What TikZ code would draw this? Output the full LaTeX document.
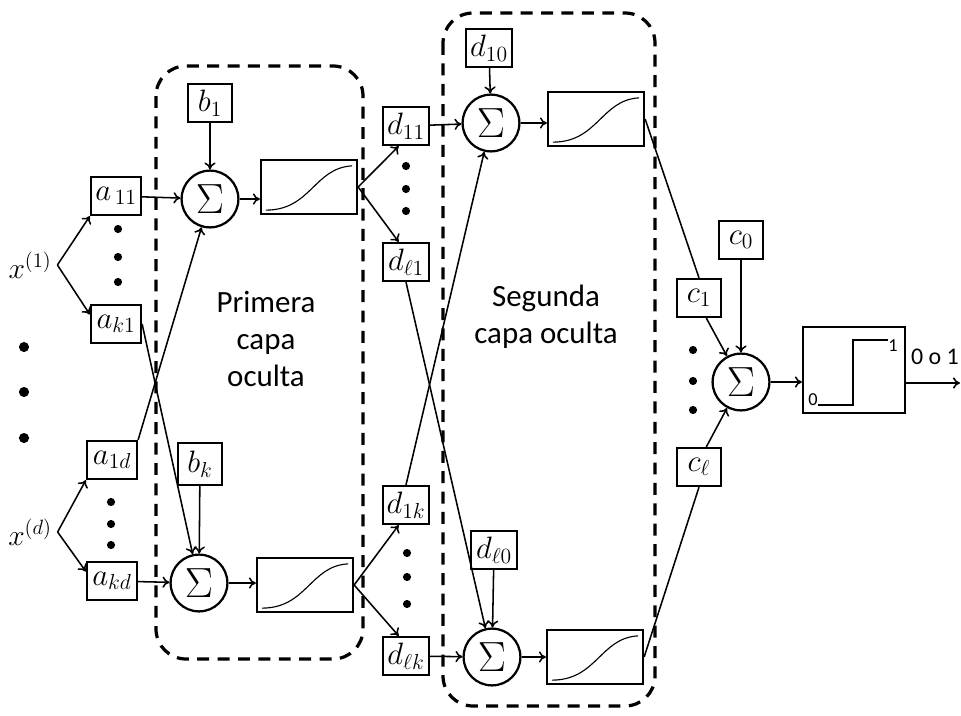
\RequirePackage{fix-cm}
\documentclass[tikz,border=0pt]{standalone}
\usepackage{fontspec}
\usepackage{amsmath}
\usepackage{tikz}
\usetikzlibrary{arrows.meta}
\newfontfamily\calibri{Carlito}

\begin{document}
\begin{tikzpicture}[x=0.025cm, y=-0.025cm,
    wbox/.style={rectangle, draw, line width=1.6pt, minimum width=1.15cm,
                 minimum height=0.95cm, inner sep=1pt, font=\fontsize{22}{24}\selectfont},
    sumc/.style={circle, draw, line width=1.6pt, minimum size=1.42cm,
                 inner sep=0pt, font=\fontsize{30}{30}\selectfont},
    actbox/.style={rectangle, draw, line width=1.6pt, minimum width=2.4cm, minimum height=1.35cm},
    layer/.style={draw, line width=2.3pt, dash pattern=on 8.5pt off 6pt, rounded corners=0.75cm},
    arr/.style={-{To[length=5pt,width=8pt]}, line width=1.1pt},
    lin/.style={line width=1.1pt},
    lbl/.style={font=\calibri\fontsize{22}{26.5}\selectfont, align=center}
  ]
  \useasboundingbox (0,0) rectangle (961,716);

  % hidden layers
  \draw[layer] (156,66) rectangle (363,659);
  \draw[layer] (443,13) rectangle (655,706);

  % inputs
  \node[font=\fontsize{21}{23}\selectfont, inner sep=4pt] (x1) at (30,265) {$x^{(1)}$};
  \node[font=\fontsize{21}{23}\selectfont, inner sep=4pt] (xd) at (30,532) {$x^{(d)}$};
  \node[wbox, minimum width=1.25cm] (a11) at (116,196) {$a_{\,11}$};
  \node[wbox, minimum width=1.25cm] (ak1) at (116,324) {$a_{k1}$};
  \node[wbox, minimum width=1.25cm] (a1d) at (112,460) {$a_{1d}$};
  \node[wbox, minimum width=1.25cm] (akd) at (112,581) {$a_{kd}$};

  % first layer
  \node[wbox, minimum width=1.1cm] (b1) at (210,103) {$b_1$};
  \node[wbox, minimum width=1.1cm, minimum height=1.05cm] (bk) at (200,464) {$b_k$};
  \node[sumc] (sum1) at (210,199) {$\Sigma$};
  \node[sumc] (sumk) at (199,583) {$\Sigma$};
  \node[actbox] (sig1) at (309,187) {};
  \node[actbox] (sigk) at (305,585) {};

  % second layer
  \node[wbox] (d11) at (406,126) {$d_{11}$};
  \node[wbox] (dl1) at (406,262) {$d_{\ell 1}$};
  \node[wbox] (d1k) at (406,505) {$d_{1k}$};
  \node[wbox] (dlk) at (406,656) {$d_{\ell k}$};
  \node[wbox] (d10) at (489,48) {$d_{10}$};
  \node[wbox] (dl0) at (494,550) {$d_{\ell 0}$};
  \node[sumc] (sum21) at (491,123) {$\Sigma$};
  \node[sumc] (sum2l) at (492,657) {$\Sigma$};
  \node[actbox] (sig21) at (596,119) {};
  \node[actbox] (sig2l) at (595,657) {};

  % output
  \node[wbox, minimum width=1.1cm] (c0) at (741,240) {$c_0$};
  \node[wbox, minimum width=1.1cm] (c1) at (699,298) {$c_1$};
  \node[wbox, minimum width=1.1cm] (cl) at (699,467) {$c_\ell$};
  \node[sumc] (sumo) at (741,382) {$\Sigma$};
  \node[actbox, minimum width=2.55cm, minimum height=2.15cm] (step) at (854,370) {};
  \coordinate (out) at (960,383);

  \node[lbl] (lay1) at (266,339) {Primera\\capa\\oculta};
  \node[lbl] (lay2) at (546,317) {Segunda\\capa oculta};

  % dots
  \foreach \px/\py in {118/229, 118/257, 118/282, 111/502, 111/524, 111/545,
                       406/166, 406/189, 406/211, 407/553, 407/577, 407/604,
                       693/350, 693/381, 693/410}
    \fill (\px,\py) circle (2.9pt);
  \foreach \py in {347, 392, 438}
    \fill (24,\py) circle (3.6pt);

  % sigmoids
  \foreach \s in {sig1, sigk, sig21, sig2l}
    \draw[line width=0.8pt] ([shift={(6,-5)}]\s.south west)
      .. controls +(45,0) and +(-38,2) .. ([shift={(-6,7)}]\s.north east);

  % step
  \draw[line width=0.8pt] (818,405) -- (853,405) -- (853,340) -- (888,340);
  \node[font=\calibri\fontsize{13}{13}\selectfont, inner sep=0pt] (lo) at (813,400) {0};
  \node[font=\calibri\fontsize{13}{13}\selectfont, inner sep=0pt] (hi) at (893,346) {1};

  \draw[arr] (x1.east) -- (a11.south west);
  \draw[arr] (x1.east) -- (ak1.160);
  \draw[arr] (xd.east) -- (a1d.south west);
  \draw[arr] (xd.east) -- (akd.160);

  \draw[arr] (a11) -- (sum1);
  \draw[arr] (a1d.north east) -- (sum1);
  \draw[arr] (ak1.east) -- (sumk);
  \draw[arr] (akd) -- (sumk);
  \draw[arr] (b1) -- (sum1);
  \draw[arr] (bk) -- (sumk);
  \draw[arr] (sum1.east) -- (sum1.east -| sig1.west);
  \draw[arr] (sumk.east) -- (sumk.east -| sigk.west);

  \draw[arr] (sig1.east) -- (d11.250);
  \draw[arr] (sig1.east) -- (dl1.110);
  \draw[arr] (sigk.east) -- (d1k.250);
  \draw[arr] (sigk.east) -- (dlk.110);

  \draw[arr] (d11) -- (sum21);
  \draw[arr] (d1k.north) -- (sum21);
  \draw[arr] (dl1.south) -- (sum2l);
  \draw[arr] (dlk) -- (sum2l);
  \draw[arr] (d10) -- (sum21);
  \draw[arr] (dl0) -- (sum2l);
  \draw[arr] (sum21.east) -- (sum21.east -| sig21.west);
  \draw[arr] (sum2l.east) -- (sum2l.east -| sig2l.west);

  \draw[lin] (sig21.east) -- (c1.north);
  \draw[lin] (sig2l.east) -- (cl.south);
  \draw[arr] (c1.-70) -- (sumo);
  \draw[arr] (cl.70) -- (sumo);
  \draw[arr] (c0) -- (sumo);
  \draw[arr] (sumo.east) -- (sumo.east -| step.west);
  \draw[arr] (out -| step.east) -- (out);
  \node[font=\calibri\fontsize{17}{19}\selectfont, anchor=east, inner sep=0pt] (res) at (959,357) {0 o 1};
\end{tikzpicture}
\end{document}
